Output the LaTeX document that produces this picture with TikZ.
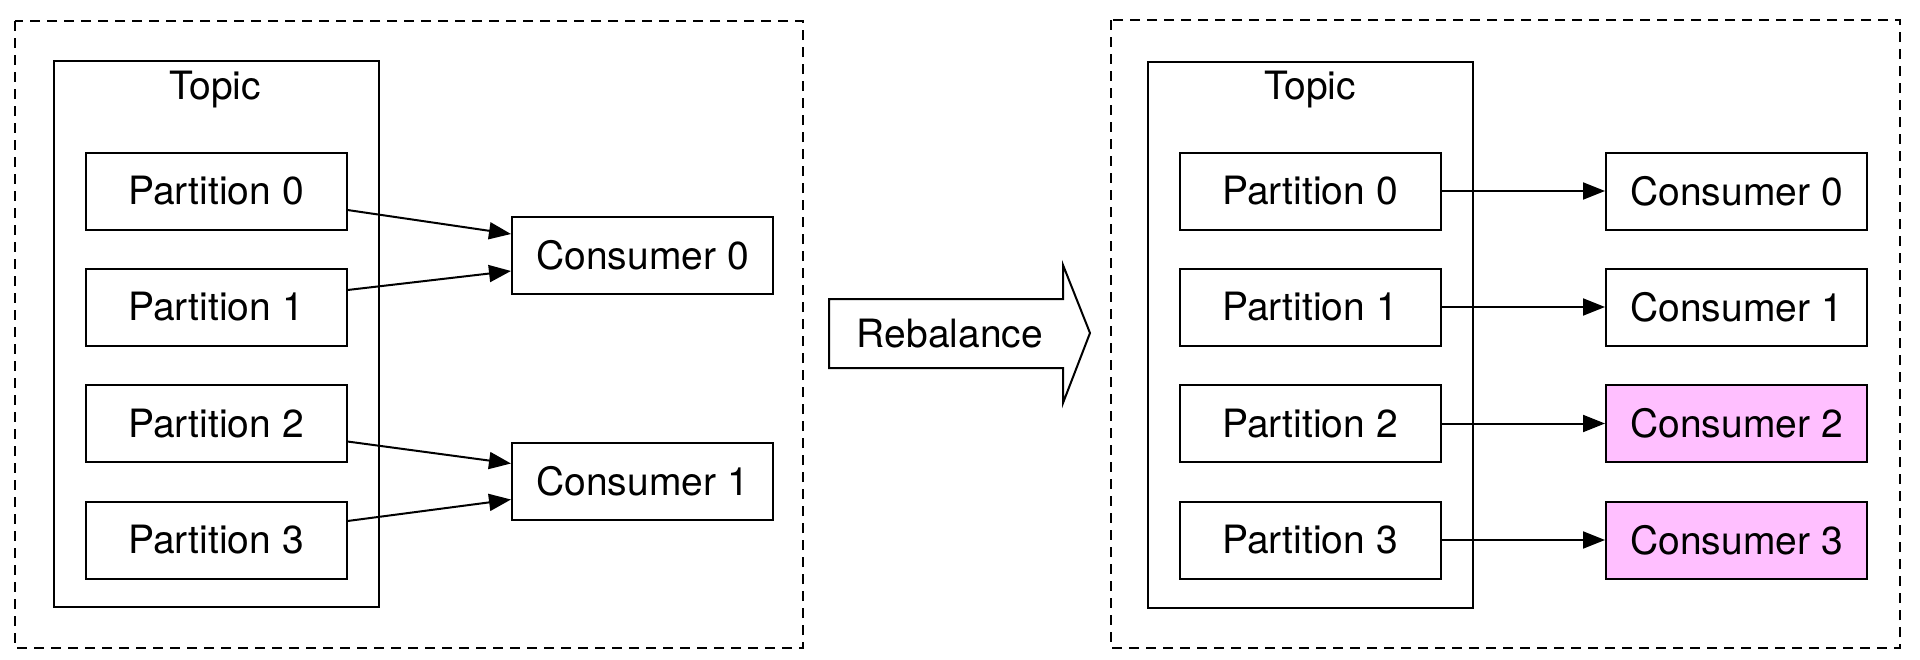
\documentclass[tikz,border=0pt]{standalone}
\usepackage{fontspec}
\setmainfont{TeX Gyre Heros}
\usetikzlibrary{arrows.meta,calc}
\definecolor{pinkfill}{HTML}{FFBFFF}
\begin{document}
\begin{tikzpicture}[x=1pt,y=-1pt,
  every node/.style={font=\fontsize{39}{46}\selectfont},
  box/.style={draw,line width=2pt,minimum width=261pt,minimum height=77pt,inner sep=0pt},
  pbox/.style={box},
  cbox/.style={box},
  newc/.style={box,fill=pinkfill},
  frame/.style={draw,line width=2pt,dash pattern=on 10pt off 7pt},
  topicbox/.style={draw,line width=2pt},
  conn/.style={line width=2pt,-{Triangle[length=22pt,width=17pt]}}
]
\useasboundingbox (0,0) rectangle (1920,659);

% ---------- left ----------
\draw[frame] (15,21) rectangle (803,648);
\draw[topicbox] (54,61) rectangle (379,607);
\node (ltopic) at (215,90) {Topic};
\node[pbox] (lp0) at (216,191) {Partition 0};
\node[pbox] (lp1) at (216,307) {Partition 1};
\node[pbox] (lp2) at (216,423.5) {Partition 2};
\node[pbox] (lp3) at (216,540) {Partition 3};
\node[cbox] (lc0) at (642.5,255) {Consumer 0};
\node[cbox] (lc1) at (642.5,481.5) {Consumer 1};
\draw[conn] ($(lp0.east)+(0,19)$) -- ($(lc0.west)+(0,-21)$);
\draw[conn] ($(lp1.east)+(0,-17)$) -- ($(lc0.west)+(0,16)$);
\draw[conn] ($(lp2.east)+(0,18)$) -- ($(lc1.west)+(0,-18)$);
\draw[conn] ($(lp3.east)+(0,-19)$) -- ($(lc1.west)+(0,18)$);

% ---------- rebalance arrow ----------
\draw[line width=2pt,line join=miter]
  (829,299) -- (1063,299) -- (1063,265) -- (1090,333) -- (1063,403) -- (1063,368) -- (829,368) -- cycle;
\node (reb) at (950,334) {Rebalance};

% ---------- right ----------
\draw[frame] (1111,20) rectangle (1900,648);
\draw[topicbox] (1148,62) rectangle (1473,608);
\node (rtopic) at (1310,90) {Topic};
\node[pbox] (rp0) at (1310,191) {Partition 0};
\node[pbox] (rp1) at (1310,307) {Partition 1};
\node[pbox] (rp2) at (1310,423.5) {Partition 2};
\node[pbox] (rp3) at (1310,540) {Partition 3};
\node[cbox] (rc0) at (1736.5,191) {Consumer 0};
\node[cbox] (rc1) at (1736.5,307) {Consumer 1};
\node[newc] (rc2) at (1736.5,423.5) {Consumer 2};
\node[newc] (rc3) at (1736.5,540) {Consumer 3};
\draw[conn] (rp0) -- (rc0);
\draw[conn] (rp1) -- (rc1);
\draw[conn] (rp2) -- (rc2);
\draw[conn] (rp3) -- (rc3);
\end{tikzpicture}
\end{document}
